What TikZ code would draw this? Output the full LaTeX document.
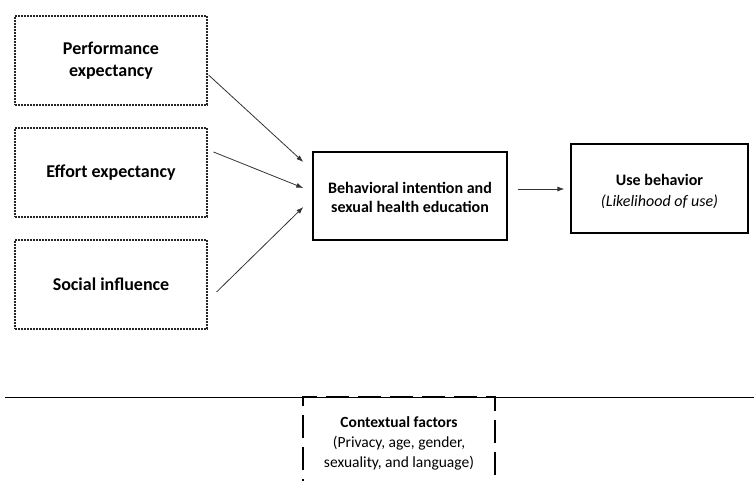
\documentclass[tikz,border=0pt]{standalone}
\usepackage{fontspec}
\setmainfont{Carlito}
\usetikzlibrary{calc,arrows.meta}
\begin{document}
\begin{tikzpicture}[x=1pt,y=-1pt,
  dotbox/.style={draw=black!85, line width=1.1pt, dash pattern=on 2pt off 1pt, minimum width=192pt, minimum height=89pt, inner sep=0pt, align=center, font=\fontsize{18}{22.5}\selectfont\bfseries},
  solidbox/.style={draw=black, line width=1.4pt, inner sep=0pt, align=center},
  arr/.style={draw=black!80, line width=0.8pt, -{Latex[length=7pt,width=5pt]}}]
\useasboundingbox (0,0) rectangle (754,481);
\fill[white] (0,0) rectangle (754,481);
\node[dotbox] (pe) at (111,60.5) {Performance\\expectancy};
\node[dotbox] (ee) at (111,172.5) {Effort expectancy};
\node[dotbox] (si) at (111,284.5) {Social influence};
\node[solidbox, minimum width=194pt, minimum height=88pt] (bi) at (410,196) {};
\node[align=center, inner sep=0pt, font=\fontsize{16}{19.5}\selectfont\bfseries] (bit) at (410,197.5) {Behavioral intention and\\sexual health education};
\node[solidbox, line width=1.2pt, minimum width=177pt, minimum height=89pt] (ub) at (659.5,188.5) {};
\node[align=center, inner sep=0pt, font=\fontsize{16}{21}\selectfont] (ubt) at (659.5,191.5) {\bfseries Use behavior\\\itshape (Likelihood of use)};
\draw[arr] ($(pe.east)+(1,14.5)$) -- ($(bi.west)+(-9,-34)$);
\draw[arr] ($(ee.east)+(6,-20.5)$) -- ($(bi.west)+(-9,-8)$);
\draw[arr] ($(si.east)+(9,7.5)$) -- ($(bi.west)+(-9,11)$);
\draw[arr] ($(bi.east)+(10,-7)$) -- ($(ub.west)+(-6,0.5)$);
\coordinate (hl) at (5,397);
\coordinate (hr) at (754,397);
\draw[line width=1pt] (hl) -- (hr);
\begin{scope}
\clip (0,0) rectangle (754,481);
\node[draw=black, line width=2.4pt, dash pattern=on 23pt off 9pt, minimum width=192pt, minimum height=110pt, inner sep=0pt] (cf) at (399,452) {};
\end{scope}
\node[align=center, inner sep=0pt, font=\fontsize{15.5}{20}\selectfont] (cft) at (399,443) {{\bfseries Contextual factors}\\(Privacy, age, gender,\\sexuality, and language)};
\end{tikzpicture}
\end{document}
